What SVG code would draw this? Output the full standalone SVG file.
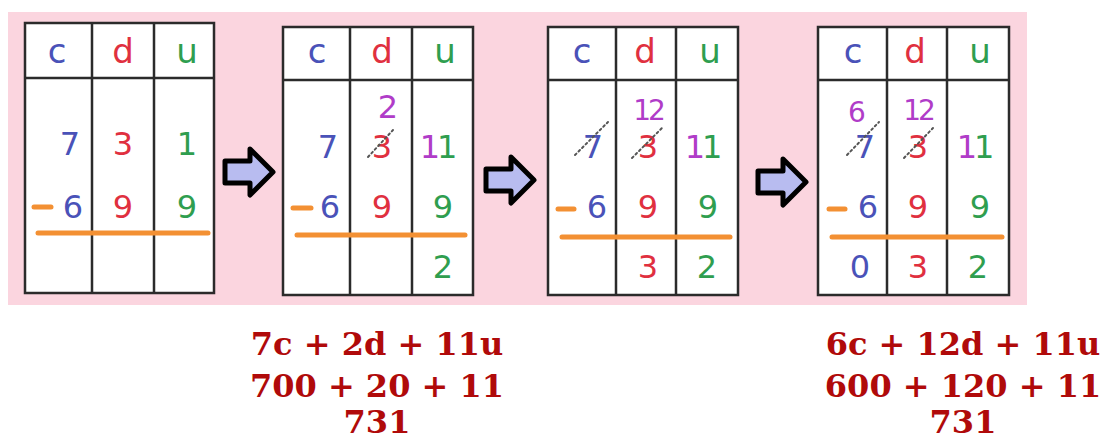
<svg xmlns="http://www.w3.org/2000/svg" width="1107" height="441" viewBox="0 0 1107 441">
  <style>
    .tbl { fill: #ffffff; stroke: #2b2b2b; stroke-width: 2.5; }
    .ln { stroke: #2b2b2b; stroke-width: 2.5; }
    .d { font-family: "DejaVu Sans", "Liberation Sans", sans-serif; font-size: 32px; text-anchor: middle; }
    .h { font-family: "DejaVu Sans", "Liberation Sans", sans-serif; font-size: 34px; text-anchor: middle; }
    .sm { font-size: 28px; }
    .tight { letter-spacing: -3px; }
    .b { fill: #4a52b8; }
    .r { fill: #e0303f; }
    .g { fill: #2f9e4f; }
    .p { fill: #b03cc8; }
    .or { stroke: #f39033; stroke-width: 5; stroke-linecap: round; }
    .sl { stroke: #555555; stroke-width: 2; stroke-dasharray: 2 3; stroke-linecap: round; }
    .arr { fill: #b8bcf0; stroke: #000000; stroke-width: 5; stroke-linejoin: round; }
    .eq { font-family: "DejaVu Serif", "Liberation Serif", serif; font-weight: bold; font-size: 32px; fill: #b00a0a; text-anchor: middle; }
  </style>
  <rect x="8" y="12" width="1019" height="293" fill="#fbd5df"/>

  <g id="table1">
    <rect class="tbl" x="25" y="23" width="189" height="270"/>
    <line class="ln" x1="25" y1="78" x2="214" y2="78"/>
    <line class="ln" x1="92" y1="23" x2="92" y2="293"/>
    <line class="ln" x1="154" y1="23" x2="154" y2="293"/>
    <text class="h b" x="57" y="63">c</text>
    <text class="h r" x="123" y="63">d</text>
    <text class="h g" x="187" y="63">u</text>
    <text class="d b" x="70" y="155">7</text>
    <text class="d r" x="123" y="155">3</text>
    <text class="d g" x="187" y="155">1</text>
    <line class="or" x1="34" y1="207" x2="51" y2="207"/>
    <text class="d b" x="73" y="218">6</text>
    <text class="d r" x="123" y="218">9</text>
    <text class="d g" x="187" y="218">9</text>
    <line class="or" x1="38" y1="233" x2="208" y2="233"/>
  </g>

  <g id="table2">
    <rect class="tbl" x="283" y="27" width="190" height="268"/>
    <line class="ln" x1="283" y1="80" x2="473" y2="80"/>
    <line class="ln" x1="350" y1="27" x2="350" y2="295"/>
    <line class="ln" x1="412" y1="27" x2="412" y2="295"/>
    <text class="h b" x="317" y="63">c</text>
    <text class="h r" x="382" y="63">d</text>
    <text class="h g" x="445" y="63">u</text>
    <text class="d p" x="388" y="118">2</text>
    <text class="d b" x="328" y="158">7</text>
    <text class="d r" x="382" y="158">3</text>
    <line class="sl" x1="368" y1="157" x2="393" y2="130"/>
    <text class="d tight" x="437" y="158"><tspan class="p">1</tspan><tspan class="g">1</tspan></text>
    <line class="or" x1="293" y1="208" x2="311" y2="208"/>
    <text class="d b" x="330" y="218">6</text>
    <text class="d r" x="382" y="218">9</text>
    <text class="d g" x="443" y="218">9</text>
    <line class="or" x1="297" y1="235" x2="465" y2="235"/>
    <text class="d g" x="443" y="278">2</text>
  </g>

  <g id="table3">
    <rect class="tbl" x="548" y="27" width="190" height="268"/>
    <line class="ln" x1="548" y1="80" x2="738" y2="80"/>
    <line class="ln" x1="616" y1="27" x2="616" y2="295"/>
    <line class="ln" x1="676" y1="27" x2="676" y2="295"/>
    <text class="h b" x="582" y="63">c</text>
    <text class="h r" x="645" y="63">d</text>
    <text class="h g" x="710" y="63">u</text>
    <text class="d sm tight p" x="648" y="120">12</text>
    <text class="d b" x="593" y="158">7</text>
    <line class="sl" x1="575" y1="155" x2="608" y2="122"/>
    <text class="d r" x="648" y="158">3</text>
    <line class="sl" x1="632" y1="158" x2="662" y2="128"/>
    <text class="d tight" x="702" y="158"><tspan class="p">1</tspan><tspan class="g">1</tspan></text>
    <line class="or" x1="558" y1="209" x2="574" y2="209"/>
    <text class="d b" x="597" y="218">6</text>
    <text class="d r" x="648" y="218">9</text>
    <text class="d g" x="708" y="218">9</text>
    <line class="or" x1="562" y1="237" x2="730" y2="237"/>
    <text class="d r" x="648" y="278">3</text>
    <text class="d g" x="707" y="278">2</text>
  </g>

  <g id="table4">
    <rect class="tbl" x="818" y="27" width="191" height="268"/>
    <line class="ln" x1="818" y1="80" x2="1009" y2="80"/>
    <line class="ln" x1="887" y1="27" x2="887" y2="295"/>
    <line class="ln" x1="947" y1="27" x2="947" y2="295"/>
    <text class="h b" x="853" y="63">c</text>
    <text class="h r" x="915" y="63">d</text>
    <text class="h g" x="980" y="63">u</text>
    <text class="d sm p" x="857" y="122">6</text>
    <text class="d sm tight p" x="918" y="120">12</text>
    <text class="d b" x="865" y="158">7</text>
    <line class="sl" x1="847" y1="155" x2="879" y2="122"/>
    <text class="d r" x="918" y="158">3</text>
    <line class="sl" x1="904" y1="158" x2="933" y2="128"/>
    <text class="d tight" x="974" y="158"><tspan class="p">1</tspan><tspan class="g">1</tspan></text>
    <line class="or" x1="829" y1="209" x2="845" y2="209"/>
    <text class="d b" x="868" y="218">6</text>
    <text class="d r" x="918" y="218">9</text>
    <text class="d g" x="980" y="218">9</text>
    <line class="or" x1="832" y1="237" x2="1002" y2="237"/>
    <text class="d b" x="860" y="278">0</text>
    <text class="d r" x="918" y="278">3</text>
    <text class="d g" x="978" y="278">2</text>
  </g>

  <g id="connectors">
    <polygon class="arr" points="225,161 250,161 250,149 273,172 250,195 250,183 225,183"/>
    <polygon class="arr" points="486,169 511,169 511,157 534,180 511,203 511,191 486,191"/>
    <polygon class="arr" points="758,171 783,171 783,159 806,182 783,205 783,193 758,193"/>
  </g>

  <g id="formula1">
    <text class="eq" x="377" y="355">7c + 2d + 11u</text>
    <text class="eq" x="377" y="397">700 + 20 + 11</text>
    <text class="eq" x="377" y="433">731</text>
  </g>
  <g id="formula2">
    <text class="eq" x="963" y="355">6c + 12d + 11u</text>
    <text class="eq" x="963" y="397">600 + 120 + 11</text>
    <text class="eq" x="963" y="433">731</text>
  </g>
</svg>
